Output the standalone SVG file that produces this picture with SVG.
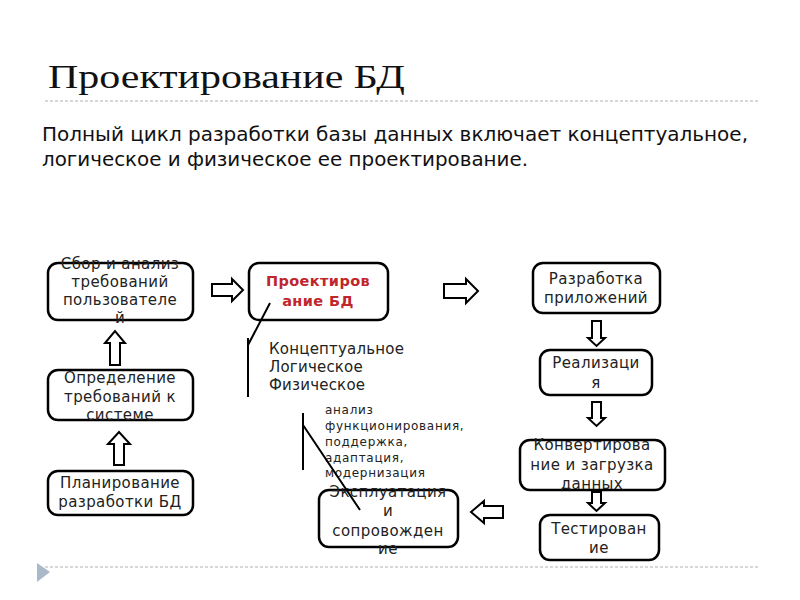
<svg xmlns="http://www.w3.org/2000/svg" width="800" height="600" viewBox="0 0 800 600">
<style>
.box{fill:#fff;stroke:#000;stroke-width:2.5}
.t{font-family:"DejaVu Sans","Liberation Sans",sans-serif;font-size:15px;fill:#222;text-anchor:middle;letter-spacing:0.4px}
.arr{fill:#fff;stroke:#000;stroke-width:2}
.ln{stroke:#000;stroke-width:2;fill:none}
.dash{stroke:#b0b0b0;stroke-width:1;stroke-dasharray:3,2}
</style>
<rect width="800" height="600" fill="#fff"/>
<text x="48" y="88" font-family="Liberation Serif,serif" font-size="34" fill="#111" textLength="357" lengthAdjust="spacingAndGlyphs">Проектирование БД</text>
<line class="dash" x1="45" y1="101" x2="760" y2="101"/>
<g font-family="DejaVu Sans Condensed,DejaVu Sans,sans-serif" font-size="19" fill="#111">
<text x="42" y="141" textLength="706" lengthAdjust="spacingAndGlyphs">Полный цикл разработки базы данных включает концептуальное,</text>
<text x="42" y="166" textLength="486" lengthAdjust="spacingAndGlyphs">логическое и физическое ее проектирование.</text>
</g>
<g id="n1"><rect class="box" x="48" y="263" width="145" height="57" rx="10"/>
<text class="t" x="120" y="269">Сбор и анализ</text><text class="t" x="120" y="287">требований</text><text class="t" x="120" y="305">пользователе</text><text class="t" x="120" y="323">й</text></g>
<g id="n2"><rect class="box" x="249" y="263" width="139" height="57" rx="10"/>
<text class="t" x="318" y="286" style="fill:#c0262b;font-weight:bold;font-size:14.5px;letter-spacing:0.4px">Проектиров</text><text class="t" x="318" y="306" style="fill:#c0262b;font-weight:bold;font-size:14.5px">ание БД</text></g>
<g id="n3"><rect class="box" x="533" y="263" width="127" height="50" rx="10"/>
<text class="t" x="596" y="284">Разработка</text><text class="t" x="596" y="303">приложений</text></g>
<g id="n4"><rect class="box" x="540" y="350" width="112" height="45" rx="10"/>
<text class="t" x="596" y="368">Реализаци</text><text class="t" x="596" y="388">я</text></g>
<g id="n5"><rect class="box" x="520" y="440" width="145" height="50" rx="10"/>
<text class="t" x="592" y="450">Конвертирова</text><text class="t" x="592" y="470">ние и загрузка</text><text class="t" x="592" y="489">данных</text></g>
<g id="n6"><rect class="box" x="540" y="515" width="119" height="45" rx="10"/>
<text class="t" x="599" y="534">Тестирован</text><text class="t" x="599" y="553">ие</text></g>
<g id="n7"><rect class="box" x="319" y="490" width="139" height="57" rx="10"/>
<text class="t" x="388" y="497">Эксплуатация</text><text class="t" x="388" y="516">и</text><text class="t" x="388" y="536">сопровожден</text><text class="t" x="388" y="554">ие</text></g>
<g id="n8"><rect class="box" x="48" y="370" width="145" height="50" rx="10"/>
<text class="t" x="120" y="383">Определение</text><text class="t" x="120" y="402">требований к</text><text class="t" x="120" y="420">системе</text></g>
<g id="n9"><rect class="box" x="48" y="471" width="145" height="44" rx="10"/>
<text class="t" x="120" y="488">Планирование</text><text class="t" x="120" y="507">разработки БД</text></g>
<g id="levels" font-family="DejaVu Sans,sans-serif" font-size="15" fill="#222" letter-spacing="0.2">
<text x="269" y="354">Концептуальное</text><text x="269" y="372">Логическое</text><text x="269" y="390">Физическое</text>
</g>
<g id="ops" font-family="DejaVu Sans,sans-serif" font-size="12" fill="#222" letter-spacing="0.7">
<text x="325" y="414">анализ</text><text x="325" y="430">функционирования,</text><text x="325" y="446">поддержка,</text><text x="325" y="462">адаптация,</text><text x="325" y="477">модернизация</text>
</g>
<g id="connectors">
<path class="arr" d="M212,284 H232 V279 L243,290 L232,301 V296 H212 Z"/>
<path class="arr" d="M444,284 H466 V279 L478,291 L466,303 V298 H444 Z"/>
<path class="arr" d="M592,321 H601 V338 H605 L596.5,346 L588,338 H592 Z"/>
<path class="arr" d="M592,402 H601 V418 H605 L596.5,426 L588,418 H592 Z"/>
<path class="arr" d="M592,492 H601 V503 H605 L596.5,511 L588,503 H592 Z"/>
<path class="arr" d="M503,506 H484 V501 L471,512 L484,523 V518 H503 Z"/>
<path class="arr" d="M110,365 H120 V343 H125 L115,331 L105,343 H110 Z"/>
<path class="arr" d="M114,465 H124 V444 H130 L119,432 L108,444 H114 Z"/>
<path class="ln" d="M270,303 L248,345 M248,338 V397"/>
<path class="ln" d="M303,413 V470 M303,425 L360,510"/>
</g>
<line class="dash" x1="45" y1="567" x2="760" y2="567"/>
<path d="M37,563 L50,572 L37,582 Z" fill="#a9b9c9"/>
</svg>
